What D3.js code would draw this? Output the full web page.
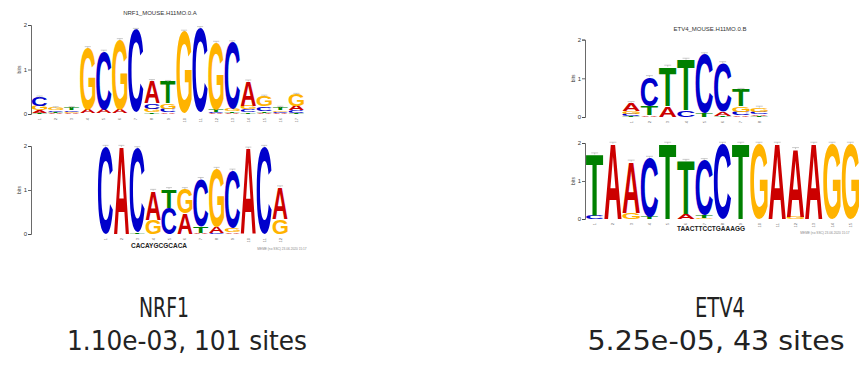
<!DOCTYPE html>
<html>
<head>
<meta charset="utf-8">
<script src="https://cdn.jsdelivr.net/npm/d3@7"></script>
<style>
  body { margin: 0; background: #fff; }
  svg { display: block; }
</style>
</head>
<body>
<svg id="chart" width="867" height="370"></svg>
<script>
// letter colours used by the logos
var letterColors = {A: "#cc0000", C: "#0000cc", G: "#ffb300", T: "#008000"};

// each column is a stack listed bottom -> top, [letter, bits]
var nrf1Target = [
  [["T", .03], ["A", .05], ["G", .10], ["C", .19]],
  [["A", .02], ["T", .02], ["C", .04], ["G", .05]],
  [["A", .02], ["G", .03], ["C", .03], ["T", .05]],
  [["C", .01], ["T", .01], ["A", .08], ["G", 1.38]],
  [["G", .01], ["T", .01], ["A", .08], ["C", 1.30]],
  [["C", .01], ["T", .01], ["A", .07], ["G", 1.57]],
  [["A", .01], ["T", .01], ["G", .01], ["C", 1.86]],
  [["T", .04], ["G", .08], ["C", .12], ["A", .50]],
  [["A", .04], ["C", .08], ["G", .12], ["T", .48]],
  [["A", .01], ["T", .01], ["C", .01], ["G", 1.82]],
  [["A", .01], ["T", .01], ["G", .01], ["C", 1.90]],
  [["A", .02], ["C", .02], ["T", .06], ["G", 1.50]],
  [["A", .02], ["T", .04], ["G", .05], ["C", 1.50]],
  [["T", .04], ["C", .06], ["G", .08], ["A", .55]],
  [["A", .03], ["T", .04], ["C", .10], ["G", .22]],
  [["A", .02], ["C", .03], ["G", .03], ["T", .06]],
  [["T", .03], ["C", .05], ["A", .10], ["G", .25]]
];

var nrf1Query = [
  [["C", 1.98]],
  [["A", 1.98]],
  [["T", .03], ["C", 1.92]],
  [["G", .32], ["A", .66]],
  [["C", .60], ["T", .42]],
  [["A", .46], ["G", .56]],
  [["A", .02], ["T", .15], ["C", 1.08]],
  [["C", .02], ["A", .14], ["G", 1.32]],
  [["A", .04], ["G", .10], ["C", 1.30]],
  [["A", 1.94]],
  [["C", 1.98]],
  [["G", .34], ["A", .72]]
];

var etv4Target = [
  [["T", .03], ["C", .05], ["G", .08], ["A", .20]],
  [["A", .04], ["T", .24], ["C", .75]],
  [["A", .28], ["T", 1.02]],
  [["C", .18], ["T", 1.30]],
  [["T", .10], ["C", 1.52]],
  [["T", .03], ["A", .10], ["C", 1.26]],
  [["A", .04], ["C", .10], ["G", .14], ["T", .42]],
  [["T", .03], ["A", .04], ["C", .07], ["G", .10]]
];

var etv4Query = [
  [["C", .10], ["T", 1.60]],
  [["A", 1.98]],
  [["G", .17], ["A", 1.34]],
  [["T", .06], ["C", 1.55]],
  [["T", 1.98]],
  [["A", .13], ["T", 1.40]],
  [["G", .03], ["T", .07], ["C", 1.45]],
  [["C", 1.98]],
  [["T", 1.98]],
  [["G", 1.98]],
  [["A", 1.98]],
  [["G", .06], ["A", 1.78]],
  [["A", 1.98]],
  [["G", 1.98]],
  [["G", 1.98]]
];

var yTicks = [0, 1, 2];
var motifNames = ["NRF1", "ETV4"];
var motifStats = ["1.10e-03, 101 sites", "5.25e-05, 43 sites"];
var logoTitles = ["NRF1_MOUSE.H11MO.0.A", "ETV4_MOUSE.H11MO.0.B"];
var consensus = ["CACAYGCGCACA", "TAACTTCCTGAAAGG"];
var footnote = "MEME (no SSC) 23.06.2020 15:17";

var svg = d3.select("#chart");

// ink box of every letter, measured once on a canvas
var ctx = document.createElement("canvas").getContext("2d");
ctx.font = "bold 100px 'Liberation Sans'";
var glyphBox = {};
"ACGT".split("").forEach(function(l) {
    var m = ctx.measureText(l);
    glyphBox[l] = {L: m.actualBoundingBoxLeft, R: m.actualBoundingBoxRight,
                   A: m.actualBoundingBoxAscent, D: m.actualBoundingBoxDescent};
});

function drawLetter(g, l, x, y, w, h) {
    if (h < 0.3) return;
    var b = glyphBox[l];
    var sx = w / (b.L + b.R), sy = h / (b.A + b.D);
    g.append("text")
        .attr("transform", "translate(" + (x + b.L * sx) + "," + (y + b.A * sy) + ") scale(" + sx + "," + sy + ")")
        .attr("font-family", "Liberation Sans")
        .attr("font-weight", "bold")
        .attr("font-size", 100)
        .attr("fill", letterColors[l])
        .text(l);
}

function drawLogo(p) {
    var g = svg.append("g");
    var n = p.stacks.length;

    var x = d3.scaleBand()
        .domain(d3.range(1, n + 1))
        .range([p.left, p.left + n * p.colW])
        .paddingInner(0.05);
    var y = d3.scaleLinear()
        .domain([0, 2])
        .range([p.base, p.base - 2 * p.bitPx]);

    // y axis
    var ax = g.append("g")
        .attr("transform", "translate(" + p.axisX + ",0)")
        .call(d3.axisLeft(y).tickValues(yTicks).tickFormat(d3.format("d")).tickSize(3).tickSizeOuter(3));
    ax.select(".domain").attr("stroke", "#444").attr("stroke-width", 0.8);
    ax.selectAll(".tick line").attr("stroke", "#444").attr("stroke-width", 0.8);
    ax.selectAll(".tick text").attr("font-size", 6).attr("font-family", "Liberation Sans").attr("fill", "#333").attr("x", -4);

    g.append("text")
        .attr("transform", "translate(" + (p.axisX - 10) + "," + y(1) + ") rotate(-90)")
        .attr("text-anchor", "middle")
        .attr("font-family", "Liberation Sans")
        .attr("font-size", 5)
        .attr("fill", "#444")
        .text("bits");

    // stacks
    p.stacks.forEach(function(col, i) {
        var cum = 0;
        col.forEach(function(d) {
            var top = y(cum + d[1]), bot = y(cum);
            drawLetter(g, d[0], x(i + 1), top, x.bandwidth(), bot - top);
            cum += d[1];
        });
        var cx = x(i + 1) + x.bandwidth() / 2, ty = y(cum);
        // small error bar on top of each column
        g.append("path")
            .attr("d", "M" + (cx - x.bandwidth() * 0.2) + "," + (ty - 1.5) + "H" + (cx + x.bandwidth() * 0.2) + "M" + cx + "," + (ty - 1.5) + "V" + ty)
            .attr("stroke", "#aaa")
            .attr("stroke-width", 0.6)
            .attr("fill", "none");
        // position number
        g.append("text")
            .attr("transform", "translate(" + (cx + 1.5) + "," + (p.base + 4) + ") rotate(-90)")
            .attr("text-anchor", "end")
            .attr("font-family", "Liberation Sans")
            .attr("font-size", 4)
            .attr("fill", "#666")
            .text(i + 1);
    });

    if (p.title) {
        g.append("text")
            .attr("x", p.title[1]).attr("y", p.title[2])
            .attr("text-anchor", "middle")
            .attr("font-family", "Liberation Sans")
            .attr("font-size", 6)
            .attr("fill", "#333")
            .text(p.title[0]);
    }
    if (p.consensus) {
        g.append("text")
            .attr("x", p.consensus[1]).attr("y", p.consensus[2])
            .attr("text-anchor", "middle")
            .attr("font-family", "Liberation Sans")
            .attr("font-weight", "bold")
            .attr("font-size", 6.5)
            .attr("fill", "#222")
            .text(p.consensus[0]);
        g.append("text")
            .attr("x", p.foot[0]).attr("y", p.foot[1])
            .attr("text-anchor", "middle")
            .attr("font-family", "Liberation Sans")
            .attr("font-size", 3.2)
            .attr("fill", "#888")
            .text(footnote);
    }
}

drawLogo({stacks: nrf1Target, axisX: 31, base: 114, bitPx: 44.5, colW: 16, left: 32,
          title: [logoTitles[0], 160, 15]});
drawLogo({stacks: nrf1Query, axisX: 31, base: 234, bitPx: 44, colW: 15.8, left: 98,
          consensus: [consensus[0], 159, 248], foot: [282, 250]});
drawLogo({stacks: etv4Target, axisX: 585, base: 117, bitPx: 38.7, colW: 18.2, left: 622.4,
          title: [logoTitles[1], 710, 31]});
drawLogo({stacks: etv4Query, axisX: 585, base: 219, bitPx: 38, colW: 18.2, left: 586,
          consensus: [consensus[1], 711, 231], foot: [825, 234]});

// captions under the logos: [centre x, width] for name and stats line
var capName = [[164, 50], [720, 50]];
var capStats = [[187, 240], [716, 257]];
motifNames.forEach(function(name, i) {
    svg.append("text")
        .attr("x", capName[i][0]).attr("y", 317)
        .attr("text-anchor", "middle")
        .attr("font-family", "DejaVu Sans Condensed")
        .attr("font-size", 27)
        .attr("textLength", capName[i][1])
        .attr("lengthAdjust", "spacingAndGlyphs")
        .attr("fill", "#222")
        .text(name);
    svg.append("text")
        .attr("x", capStats[i][0]).attr("y", 350)
        .attr("text-anchor", "middle")
        .attr("font-family", "DejaVu Sans Condensed")
        .attr("font-size", 27)
        .attr("textLength", capStats[i][1])
        .attr("lengthAdjust", "spacingAndGlyphs")
        .attr("fill", "#222")
        .text(motifStats[i]);
});
</script>
</body>
</html>
